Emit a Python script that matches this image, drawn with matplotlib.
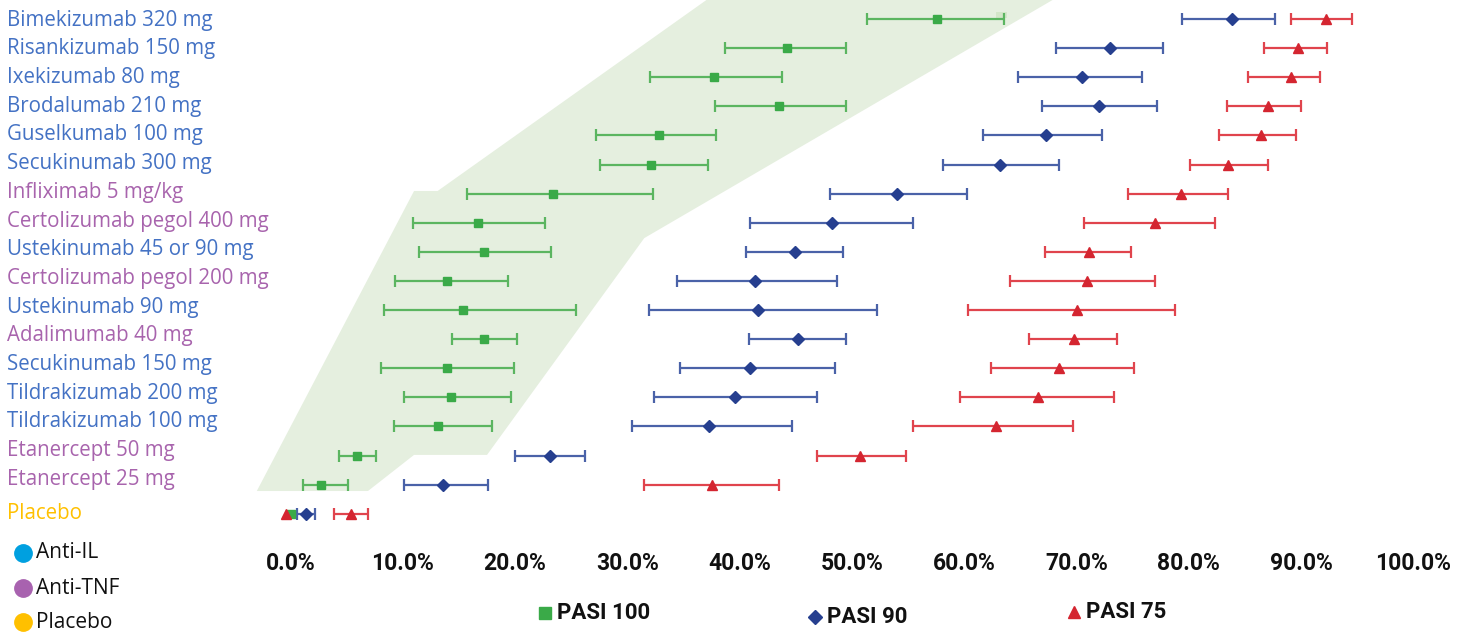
import numpy as np
import matplotlib.pyplot as plt
from matplotlib.lines import Line2D
from matplotlib.patches import Polygon, Rectangle

treatments = ["Bimekizumab 320 mg", "Risankizumab 150 mg", "Ixekizumab 80 mg",
              "Brodalumab 210 mg", "Guselkumab 100 mg", "Secukinumab 300 mg",
              "Infliximab 5 mg/kg", "Certolizumab pegol 400 mg", "Ustekinumab 45 or 90 mg",
              "Certolizumab pegol 200 mg", "Ustekinumab 90 mg", "Adalimumab 40 mg",
              "Secukinumab 150 mg", "Tildrakizumab 200 mg", "Tildrakizumab 100 mg",
              "Etanercept 50 mg", "Etanercept 25 mg", "Placebo"]
drug_class = ["IL", "IL", "IL", "IL", "IL", "IL", "TNF", "TNF", "IL", "TNF", "IL",
              "TNF", "IL", "IL", "IL", "TNF", "TNF", "PBO"]

# response rates in %, with credible interval
pasi100 = [57.6, 44.2, 37.7, 43.5, 32.8, 32.1, 23.4, 16.7, 17.2, 13.9, 15.4, 17.2,
           13.9, 14.3, 13.1, 5.9, 2.7, 0.0]
pasi100_lo = [51.3, 38.7, 32.0, 37.8, 27.2, 27.6, 15.7, 10.9, 11.4, 9.3, 8.3, 14.4,
              8.1, 10.1, 9.2, 4.3, 1.1, 0.0]
pasi100_hi = [63.5, 49.5, 43.8, 49.5, 37.9, 37.2, 32.3, 22.7, 23.2, 19.4, 25.4, 20.2,
              19.9, 19.6, 17.9, 7.6, 5.1, 0.0]

pasi90 = [83.8, 73.0, 70.5, 72.0, 67.3, 63.2, 54.0, 48.2, 44.9, 41.4, 41.6, 45.2,
          40.9, 39.6, 37.3, 23.1, 13.6, 1.4]
pasi90_lo = [79.4, 68.2, 64.8, 66.9, 61.7, 58.1, 48.0, 40.9, 40.6, 34.4, 31.9, 40.8,
             34.7, 32.4, 30.4, 20.0, 10.1, 0.6]
pasi90_hi = [87.7, 77.7, 75.8, 77.2, 72.3, 68.4, 60.2, 55.4, 49.2, 48.7, 52.2, 49.5,
             48.5, 46.9, 44.7, 26.2, 17.6, 2.2]

pasi75 = [92.2, 89.7, 89.1, 87.0, 86.4, 83.5, 79.3, 77.0, 71.1, 70.9, 70.0, 69.8,
          68.4, 66.6, 62.8, 50.7, 37.5, 5.4]
pasi75_lo = [89.1, 86.7, 85.3, 83.4, 82.7, 80.1, 74.6, 70.7, 67.2, 64.1, 60.3, 65.8,
             62.4, 59.6, 55.4, 46.9, 31.5, 3.9]
pasi75_hi = [94.5, 92.3, 91.7, 90.0, 89.5, 87.0, 83.5, 82.3, 74.8, 77.0, 78.8, 73.6,
             75.1, 73.3, 69.7, 54.8, 43.5, 6.9]
placebo_pasi75_extra = -0.4

# shaded band behind PASI 100 (x in %, y in rows)
band_x = [-3.0, 6.9, 11.0, 17.5, 31.5, 69.4, 38.3, 13.1, 11.0]
band_y = [16.22, 16.22, 14.98, 14.98, 7.53, -1.0, -1.0, 5.91, 5.91]

class_colors = {"IL": "#4472c4", "TNF": "#a864ad", "PBO": "#ffc000"}

fig = plt.figure(figsize=(14.65, 6.34), dpi=100)
ax = fig.add_axes([250 / 1465, 99 / 634, 1215 / 1465, 535 / 634])

rows = np.arange(len(treatments))

ax.add_patch(Polygon(np.column_stack([band_x, band_y]), closed=True,
                     facecolor="#e5efdf", edgecolor="none", zorder=0))
ax.add_patch(Rectangle((62.8, -0.24), 1.0, 0.22, facecolor="#d3e6c9",
                       edgecolor="none", zorder=0))

series = [
    (pasi100, pasi100_lo, pasi100_hi, "#5bb560", "#3aaa48", "s", 6),
    (pasi90, pasi90_lo, pasi90_hi, "#4a62a8", "#263f8f", "D", 6.5),
    (pasi75, pasi75_lo, pasi75_hi, "#e0444d", "#d42530", "^", 7.5),
]
for val, lo, hi, ecol, mcol, mk, ms in series:
    val, lo, hi = np.array(val), np.array(lo), np.array(hi)
    m = hi > lo
    ax.errorbar(val[m], rows[m], xerr=[val[m] - lo[m], hi[m] - val[m]], fmt="none",
                ecolor=ecol, elinewidth=1.6, capsize=4.5, capthick=1.6, zorder=2)
    ax.plot(val, rows, linestyle="none", marker=mk, color=mcol, markersize=ms, zorder=3)
ax.plot([placebo_pasi75_extra], [rows[-1]], linestyle="none", marker="^",
        color="#d42530", markersize=7.5, zorder=4)

ax.set_xlim((250 - 290.5) / 11.23, (1465 - 290.5) / 11.23)
ax.set_ylim((535 - 19) / 29.1, -0.653)
ax.set_xticks(np.arange(0, 101, 10))
ax.set_xticklabels([f"{v:.1f}%" for v in np.arange(0, 101, 10)],
                   fontfamily="Roboto", fontweight="bold", fontsize=16.5, color="#111111")
ax.tick_params(axis="x", length=0, pad=12)
ax.set_yticks([])
for s in ax.spines.values():
    s.set_visible(False)

# treatment labels, slightly tighter spacing than the data rows
label_pos = list(0.04 + rows[:-1] * 0.986) + [17.0]
for name, cls, yp in zip(treatments, drug_class, label_pos):
    ax.text((7 - 250) / 1215, yp, name, transform=ax.get_yaxis_transform(),
            ha="left", va="center", fontfamily="Open Sans", fontsize=14.8,
            color=class_colors[cls])

# class legend
for txt, col, yy in [("Anti-IL", "#00a0e0", 553), ("Anti-TNF", "#a862af", 588),
                     ("Placebo", "#ffc000", 622)]:
    fig.add_artist(Line2D([23 / 1465], [1 - yy / 634], marker="o", markersize=12.5,
                          color=col, linestyle="none", transform=fig.transFigure))
    fig.text(36 / 1465, 1 - yy / 634, txt, ha="left", va="center",
             fontfamily="Open Sans", fontsize=15, color="#111111")

# series legend
for txt, col, mk, ms, xm, yy in [("PASI 100", "#3aaa48", "s", 9, 545, 613),
                                 ("PASI 90", "#263f8f", "D", 7, 815, 617),
                                 ("PASI 75", "#d42530", "^", 8, 1074, 612)]:
    fig.add_artist(Line2D([xm / 1465], [1 - yy / 634], marker=mk, markersize=ms,
                          color=col, linestyle="none", transform=fig.transFigure))
    fig.text((xm + 12) / 1465, 1 - yy / 634, txt, ha="left", va="center",
             fontfamily="Roboto", fontweight="bold", fontsize=16, color="#111111")

fig.savefig("out.png", dpi=100)
